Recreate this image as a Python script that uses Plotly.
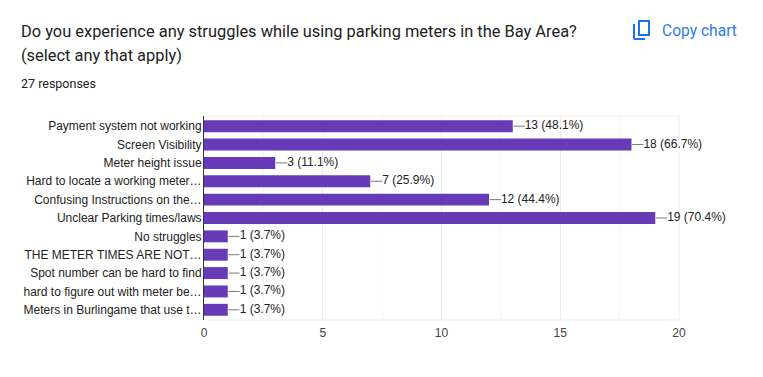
import plotly.graph_objects as go

categories = [
    "Payment system not working", "Screen Visibility", "Meter height issue",
    "Hard to locate a working meter…", "Confusing Instructions on the…",
    "Unclear Parking times/laws", "No struggles", "THE METER TIMES ARE NOT…",
    "Spot number can be hard to find", "hard to figure out with meter be…",
    "Meters in Burlingame that use t…",
]
counts = [13, 18, 3, 7, 12, 19, 1, 1, 1, 1, 1]
percents = ["48.1", "66.7", "11.1", "25.9", "44.4", "70.4", "3.7", "3.7", "3.7", "3.7", "3.7"]
tick_values = [0, 5, 10, 15, 20]
minor_ticks = [2.5, 7.5, 12.5, 17.5]

TITLE_1 = "Do you experience any struggles while using parking meters in the Bay Area?"
TITLE_2 = "(select any that apply)"
SUBTITLE = "27 responses"

W, H = 763, 377
L, R, T, B = 204, 679, 116, 320
LEAD_A, LEAD_B = 0.03, 0.5
PURPLE = "#673ab7"
TXT = "#222222"
AX = "Liberation Sans"

fig = go.Figure()
fig.add_trace(go.Bar(y=categories, x=counts, orientation="h", marker_color=PURPLE,
                     marker_line_width=0, width=0.65, hoverinfo="skip", showlegend=False))
lx, ly = [], []
for c, v in zip(categories, counts):
    lx += [v + LEAD_A, v + LEAD_B, None]
    ly += [c, c, None]
fig.add_trace(go.Scatter(x=lx, y=ly, mode="lines", line=dict(color="#7a7a7a", width=1),
                         hoverinfo="skip", showlegend=False, cliponaxis=False))
fig.add_trace(go.Scatter(x=[v + LEAD_B for v in counts], y=categories, mode="text",
                         text=[f"{v} ({p}%)" for v, p in zip(counts, percents)],
                         textposition="middle right",
                         textfont=dict(family=AX, size=12, color=TXT),
                         hoverinfo="skip", showlegend=False, cliponaxis=False))

fig.update_layout(
    width=W, height=H, autosize=False,
    margin=dict(l=L, r=W - R, t=T, b=H - B, pad=0),
    paper_bgcolor="white", plot_bgcolor="white",
    bargap=0.35,
    font=dict(family=AX, size=12, color=TXT),
    xaxis=dict(range=[0, 20], tickvals=tick_values, ticks="", showline=False, zeroline=False,
               gridcolor="#ebebeb", gridwidth=1, tickfont=dict(family=AX, size=12, color="#444444"),
               minor=dict(tickvals=minor_ticks, showgrid=True, gridcolor="#f5f5f5", gridwidth=1, ticks=""),
               fixedrange=True, ticklabelstandoff=4),
    yaxis=dict(categoryorder="array", categoryarray=categories, autorange="reversed",
               ticks="", showgrid=False, showline=True, linecolor="#333333", linewidth=1,
               zeroline=False, tickfont=dict(family=AX, size=12, color=TXT), fixedrange=True,
               ticklabelstandoff=-1),
    hovermode=False,
)

fig.add_shape(type="rect", xref="x domain", yref="y domain", x0=0, x1=1, y0=0, y1=1,
              line=dict(color="#f0f0f0", width=1), fillcolor="rgba(0,0,0,0)", layer="below")

def note(text, x, y, size, color=TXT, family="Roboto"):
    fig.add_annotation(text=text, xref="paper", yref="paper",
                       x=(x - L) / (R - L), y=(B - y) / (B - T),
                       xanchor="left", yanchor="middle", showarrow=False,
                       font=dict(family=family, size=size, color=color))

note(TITLE_1, 19, 32, 16.42)
note(TITLE_2, 19, 56, 16.42)
note(SUBTITLE, 19, 84, 12.5)
note("Copy chart", 660, 31, 15.6, color="#2f7de9")

def px_shape(kind_path):
    fig.add_shape(type="path", path=kind_path, xref="x domain", yref="y domain",
                  line=dict(color="#1a73e8", width=2), fillcolor="rgba(0,0,0,0)", layer="above")

def P(x, y):
    return f"{(x - L) / (R - L):.5f},{(B - y) / (B - T):.5f}"

px_shape(f"M{P(639, 21)} L{P(649, 21)} L{P(649, 35)} L{P(639, 35)} Z")
px_shape(f"M{P(634, 24)} L{P(634, 38)} Q{P(634, 39)} {P(635, 39)} L{P(645, 39)}")

fig.write_html("out.html", config=dict(displayModeBar=False),
               post_script="document.body.style.margin='0';document.body.style.overflow='hidden';")
